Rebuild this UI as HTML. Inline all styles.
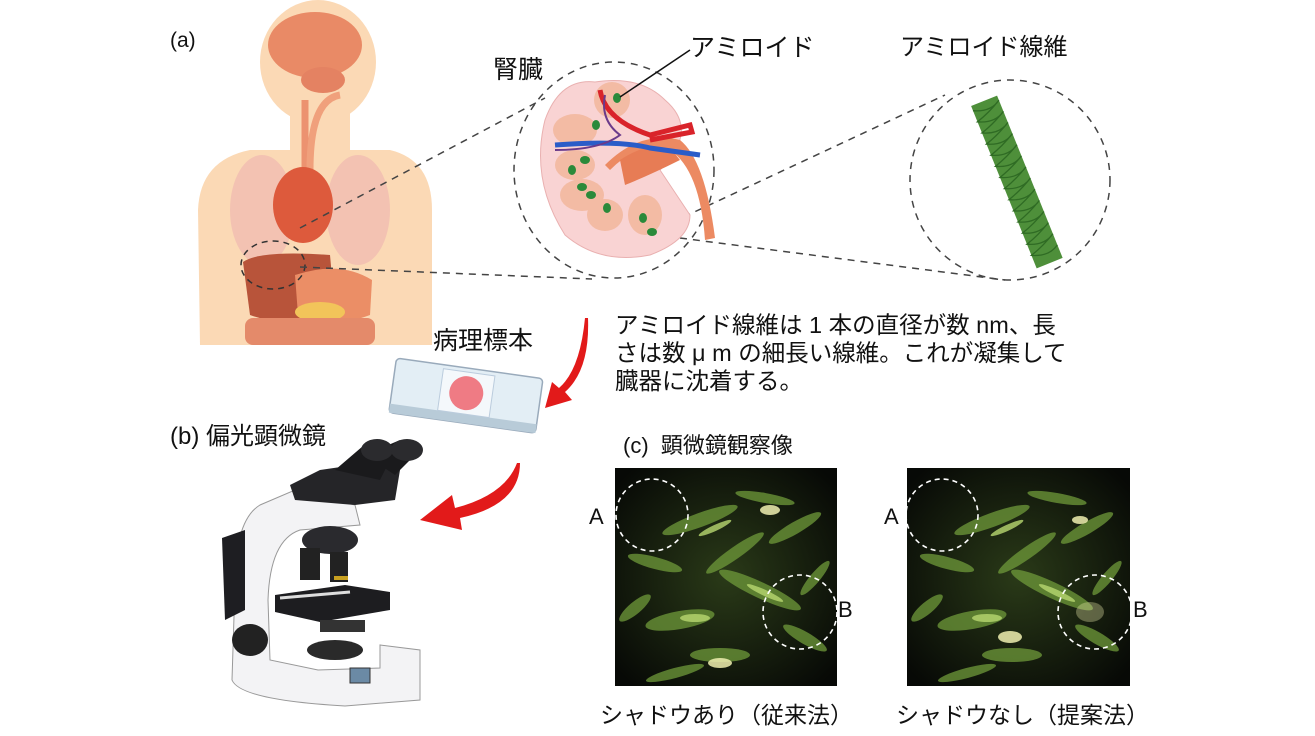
<!DOCTYPE html>
<html><head><meta charset="utf-8"><style>
body{margin:0;background:#fff;width:1315px;height:736px;overflow:hidden;position:relative;font-family:"Liberation Sans","Noto Sans CJK JP",sans-serif;color:#111}
.t{position:absolute;white-space:nowrap;font-size:21px;line-height:1}
</style></head><body>
<svg width="1315" height="736" style="position:absolute;left:0;top:0">
<defs>
<radialGradient id="g1" cx="50%" cy="50%" r="65%"><stop offset="0" stop-color="#2a3a18"/><stop offset="1" stop-color="#070906"/></radialGradient>
<g id="streaks">
<g fill="#6f9a3a" opacity="0.75">
<ellipse cx="85" cy="52" rx="40" ry="7" transform="rotate(-20 85 52)"/>
<ellipse cx="145" cy="122" rx="45" ry="8" transform="rotate(25 145 122)"/>
<ellipse cx="65" cy="152" rx="35" ry="9" transform="rotate(-10 65 152)"/>
<ellipse cx="105" cy="187" rx="30" ry="7"/>
<ellipse cx="180" cy="60" rx="30" ry="6" transform="rotate(-30 180 60)"/>
<ellipse cx="40" cy="95" rx="28" ry="6" transform="rotate(15 40 95)"/>
<ellipse cx="120" cy="85" rx="35" ry="6" transform="rotate(-35 120 85)"/>
<ellipse cx="190" cy="170" rx="25" ry="6" transform="rotate(30 190 170)"/>
<ellipse cx="60" cy="205" rx="30" ry="5" transform="rotate(-15 60 205)"/>
<ellipse cx="150" cy="30" rx="30" ry="5" transform="rotate(10 150 30)"/>
<ellipse cx="20" cy="140" rx="20" ry="6" transform="rotate(-40 20 140)"/>
<ellipse cx="200" cy="110" rx="22" ry="5" transform="rotate(-50 200 110)"/>
</g>
<g fill="#b8d870" opacity="0.8">
<ellipse cx="100" cy="60" rx="18" ry="3" transform="rotate(-25 100 60)"/>
<ellipse cx="150" cy="125" rx="20" ry="3" transform="rotate(25 150 125)"/>
<ellipse cx="80" cy="150" rx="15" ry="4"/>
</g>
</g>
</defs>
<!-- body -->
<g>
<ellipse cx="318" cy="62" rx="58" ry="62" fill="#fbd9b5"/>
<rect x="290" y="100" width="60" height="60" fill="#fbd9b5"/>
<path d="M200 345 L198 210 Q200 160 250 150 L390 150 Q432 160 432 210 L432 345 Z" fill="#fbd9b5"/>
<ellipse cx="315" cy="45" rx="47" ry="33" fill="#e98a66"/>
<ellipse cx="323" cy="80" rx="22" ry="13" fill="#e48262"/>
<path d="M305 100 L305 170" stroke="#ec9270" stroke-width="7" fill="none"/>
<path d="M310 170 Q310 100 340 95" stroke="#f0a07c" stroke-width="7" fill="none"/>
<ellipse cx="262" cy="210" rx="32" ry="55" fill="#f3c2b2"/>
<ellipse cx="358" cy="210" rx="32" ry="55" fill="#f3c2b2"/>
<ellipse cx="303" cy="205" rx="30" ry="38" fill="#dd5a3c"/>
<path d="M243 262 Q260 250 330 255 L335 310 Q290 330 250 315 Z" fill="#b8543a"/>
<path d="M295 275 Q340 260 372 280 L370 315 Q330 330 298 315 Z" fill="#eb8e66"/>
<ellipse cx="320" cy="312" rx="25" ry="10" fill="#f2c45a"/>
<rect x="245" y="318" width="130" height="27" rx="8" fill="#e48a6a"/>
<ellipse cx="273" cy="265" rx="32" ry="24" fill="none" stroke="#333" stroke-width="1.5" stroke-dasharray="6 5"/>
</g>
<g stroke="#444" stroke-width="1.5" stroke-dasharray="7 6" fill="none">
<line x1="300" y1="228" x2="545" y2="98"/>
<line x1="300" y1="267" x2="592" y2="279"/>
<line x1="660" y1="228" x2="945" y2="95"/>
<line x1="680" y1="238" x2="1005" y2="280"/>
<ellipse cx="614" cy="170" rx="100" ry="108"/>
<ellipse cx="1010" cy="180" rx="100" ry="100"/>
</g>
<!-- kidney -->
<path d="M595 82 Q560 78 545 120 Q530 180 565 235 Q600 265 650 255 Q690 240 690 215 L660 170 Q700 130 665 100 Q640 75 595 82Z" fill="#f9d3d3" stroke="#e9b0b0"/>
<g fill="#f3bba4"><ellipse cx="612" cy="100" rx="18" ry="18"/><ellipse cx="575" cy="130" rx="22" ry="16"/><ellipse cx="575" cy="165" rx="20" ry="15"/><ellipse cx="582" cy="195" rx="22" ry="16"/><ellipse cx="605" cy="215" rx="18" ry="16"/><ellipse cx="645" cy="215" rx="17" ry="20"/></g>
<path d="M610 170 Q640 140 670 150 Q700 170 705 240 L715 238 Q705 160 680 140 Q640 130 605 165 Z" fill="#ec8a62"/>
<path d="M620 160 Q650 140 672 150 L680 160 Q650 175 625 185 Z" fill="#e77c55"/>
<path d="M600 90 Q605 120 650 135 L690 125 L692 132 L650 140" stroke="#d9232a" stroke-width="5" fill="none"/>
<path d="M555 145 Q620 140 650 148 L700 155" stroke="#2a5cc8" stroke-width="5" fill="none"/>
<path d="M555 150 Q600 150 620 135 Q600 120 605 95" stroke="#6a3a8a" stroke-width="2" fill="none"/>
<g fill="#2a8a3a"><ellipse cx="617" cy="98" rx="4" ry="5"/><ellipse cx="596" cy="125" rx="4" ry="5"/><ellipse cx="585" cy="160" rx="5" ry="4"/><ellipse cx="572" cy="170" rx="4" ry="5"/><ellipse cx="582" cy="187" rx="5" ry="4"/><ellipse cx="591" cy="195" rx="5" ry="4"/><ellipse cx="607" cy="208" rx="4" ry="5"/><ellipse cx="643" cy="218" rx="4" ry="5"/><ellipse cx="652" cy="232" rx="5" ry="4"/></g>
<line x1="620" y1="97" x2="690" y2="50" stroke="#111" stroke-width="1.5"/>
<!-- fiber -->
<g transform="rotate(-22 1015 180)">
<rect x="1002" y="95" width="28" height="175" fill="#4e8f3a"/>
</g>
<g transform="rotate(-22 1015 180)" stroke="#2f6b24" stroke-width="1.3" fill="none">
<path d="M1002 100 q16 8 28 0 q-14 8 -28 12 q16 8 28 0 q-14 8 -28 12 q16 8 28 0 q-14 8 -28 12 q16 8 28 0 q-14 8 -28 12 q16 8 28 0 q-14 8 -28 12 q16 8 28 0 q-14 8 -28 12 q16 8 28 0 q-14 8 -28 12 q16 8 28 0 q-14 8 -28 12 q16 8 28 0 q-14 8 -28 12 q16 8 28 0 q-14 8 -28 12 q16 8 28 0 q-14 8 -28 12 q16 8 28 0 q-14 8 -28 12 q16 8 28 0 q-14 8 -28 12 q16 8 28 0"/>
</g>
<!-- slide -->
<g transform="rotate(8 465 395)">
<rect x="392" y="368" width="148" height="55" rx="4" fill="#e3eef5" stroke="#9ab" stroke-width="1.5"/>
<rect x="392" y="414" width="148" height="9" fill="#b8cbd8"/>
<rect x="440" y="372" width="52" height="42" fill="#f4f8fb" stroke="#bcd"/>
<circle cx="466" cy="393" r="17" fill="#ef7b84"/>
</g>
<path d="M588 318 Q590 370 565 392 L572 400 L545 408 L552 382 L559 388 Q580 370 585 318Z" fill="#e21a1a"/>
<path d="M520 463 Q520 505 460 518 L462 530 L420 520 L452 495 L455 508 Q505 495 517 463Z" fill="#e21a1a"/>
<!-- microscope -->
<g>
<path d="M235 585 Q235 520 260 505 L295 490 L355 505 L360 525 L300 530 Q270 540 268 600 L270 660 L318 670 L380 668 L380 645 L420 650 L420 700 L345 706 Q240 700 232 680 Z" fill="#f3f3f5" stroke="#999"/>
<path d="M222 538 L245 530 L245 610 L225 620 Z" fill="#1e1e22"/>
<path d="M290 485 L320 470 L375 462 L400 470 L395 500 L355 505 L295 500Z" fill="#252528"/>
<path d="M335 470 L370 440 L395 450 L380 480Z M365 455 L400 440 L415 455 L395 475Z" fill="#1a1a1c"/>
<ellipse cx="377" cy="450" rx="16" ry="11" fill="#2b2b2e"/><ellipse cx="407" cy="450" rx="16" ry="11" fill="#2b2b2e"/>
<ellipse cx="330" cy="540" rx="28" ry="14" fill="#2a2a2e"/>
<rect x="300" y="548" width="20" height="32" fill="#222"/><rect x="330" y="552" width="18" height="30" fill="#222"/>
<rect x="334" y="576" width="14" height="4" fill="#c8a020"/>
<path d="M275 595 L345 585 L390 592 L390 610 L320 622 L275 612Z" fill="#1d1d20"/>
<path d="M280 598 L350 592" stroke="#ddd" stroke-width="3"/>
<rect x="320" y="620" width="45" height="12" fill="#333"/>
<ellipse cx="250" cy="640" rx="18" ry="16" fill="#222"/>
<ellipse cx="335" cy="650" rx="28" ry="10" fill="#2a2a2a"/>
<rect x="350" y="668" width="20" height="15" fill="#6b8aa5" stroke="#333"/>
</g>
<!-- micrographs -->
<rect x="615" y="468" width="222" height="218" fill="url(#g1)"/>
<rect x="907" y="468" width="223" height="218" fill="url(#g1)"/>
<use href="#streaks" x="615" y="468"/>
<use href="#streaks" x="907" y="468"/>
<g fill="#f0f0b0" opacity="0.85"><ellipse cx="770" cy="510" rx="10" ry="5"/><ellipse cx="720" cy="663" rx="12" ry="5"/><ellipse cx="1010" cy="637" rx="12" ry="6"/><ellipse cx="1080" cy="520" rx="8" ry="4"/><ellipse cx="1090" cy="612" rx="14" ry="10" opacity="0.4"/></g>
<g fill="none" stroke="#fff" stroke-width="1.6" stroke-dasharray="5 4">
<circle cx="652" cy="515" r="36"/><circle cx="800" cy="612" r="37"/>
<circle cx="942" cy="515" r="36"/><circle cx="1095" cy="612" r="37"/>
</g>
</svg>
<div class="t" style="left:170px;top:30px;font-size:21px">(a)</div>
<div class="t" style="left:493px;top:58px;font-size:25px">腎臓</div>
<div class="t" style="left:690px;top:36px;font-size:25px">アミロイド</div>
<div class="t" style="left:900px;top:36px;font-size:24px">アミロイド線維</div>
<div class="t" style="left:615px;top:311px;font-size:23.5px;line-height:28px">アミロイド線維は 1 本の直径が数 nm、長<br>さは数 μ m の細長い線維。これが凝集して<br>臓器に沈着する。</div>
<div class="t" style="left:433px;top:329px;font-size:25px">病理標本</div>
<div class="t" style="left:170px;top:425px;font-size:24px">(b) 偏光顕微鏡</div>
<div class="t" style="left:623px;top:435px;font-size:22px">(c)&nbsp; 顕微鏡観察像</div>
<div class="t" style="left:589px;top:506px;font-size:22px">A</div>
<div class="t" style="left:838px;top:599px;font-size:22px">B</div>
<div class="t" style="left:884px;top:506px;font-size:22px">A</div>
<div class="t" style="left:1133px;top:599px;font-size:22px">B</div>
<div class="t" style="left:600px;top:704px;font-size:23px">シャドウあり（従来法）</div>
<div class="t" style="left:896px;top:704px;font-size:23px">シャドウなし（提案法）</div>
</body></html>
